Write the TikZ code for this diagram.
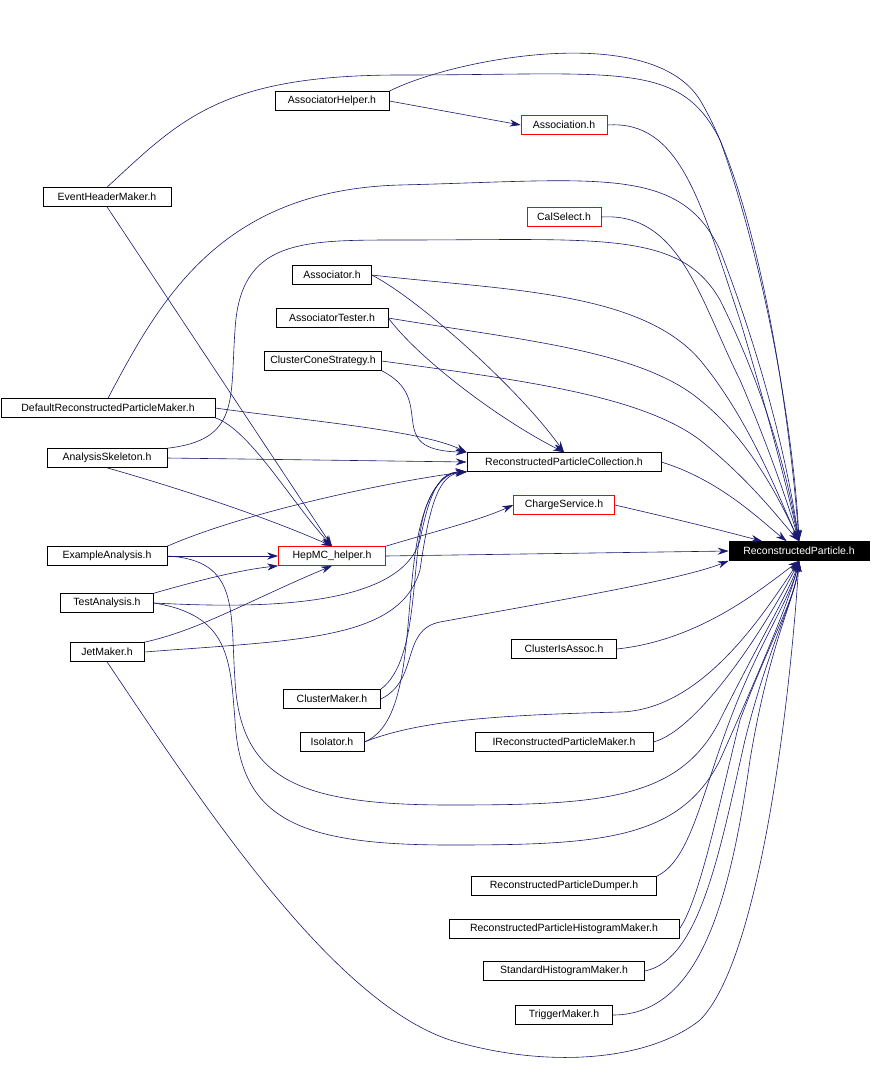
\documentclass[tikz,border=0pt]{standalone}
\usepackage{fontspec}
\setmainfont{Liberation Sans}
\usetikzlibrary{arrows.meta}
\definecolor{edge}{HTML}{191970}
\begin{document}
\begin{tikzpicture}[x=1pt,y=-1pt,
  box/.style={draw=black,fill=white,font=\fontsize{10.5}{12}\selectfont,minimum height=19pt,inner sep=0pt,line width=0.6pt},
  redbox/.style={box,draw=red},
  e/.style={draw=edge,line width=0.6pt,-{Stealth[length=11pt,width=7pt]}}]
\useasboundingbox (0,0) rectangle (872,1077);
\node[box,minimum width=114pt] (ah) at (332,101) {AssociatorHelper.h};
\node[redbox,minimum width=86pt] (as) at (564,125) {Association.h};
\node[box,minimum width=128pt] (ehm) at (107,197) {EventHeaderMaker.h};
\node[redbox,minimum width=74pt] (cs) at (564,217) {CalSelect.h};
\node[box,minimum width=79pt] (ator) at (332,275) {Associator.h};
\node[box,minimum width=112pt] (at) at (332,318) {AssociatorTester.h};
\node[box,minimum width=117pt] (ccs) at (323,361) {ClusterConeStrategy.h};
\node[box,minimum width=214pt] (drpm) at (108,408) {DefaultReconstructedParticleMaker.h};
\node[box,minimum width=120pt] (ask) at (107,458) {AnalysisSkeleton.h};
\node[box,minimum width=194pt] (rpc) at (564,462) {ReconstructedParticleCollection.h};
\node[redbox,minimum width=101pt] (chs) at (564,505) {ChargeService.h};
\node[box,minimum width=120pt] (ea) at (107,556) {ExampleAnalysis.h};
\node[redbox,minimum width=107pt] (hep) at (332,556) {HepMC\_helper.h};
\node[box,minimum width=140pt,fill=black,text=white] (rp) at (799,551) {ReconstructedParticle.h};
\node[box,minimum width=93pt] (ta) at (107,603) {TestAnalysis.h};
\node[box,minimum width=74pt] (jm) at (107,652) {JetMaker.h};
\node[box,minimum width=105pt] (cia) at (564,649) {ClusterIsAssoc.h};
\node[box,minimum width=97pt] (cm) at (332,699) {ClusterMaker.h};
\node[box,minimum width=64pt] (iso) at (332,742) {Isolator.h};
\node[box,minimum width=178pt] (irpm) at (564,742) {IReconstructedParticleMaker.h};
\node[box,minimum width=185pt] (dump) at (564,886) {ReconstructedParticleDumper.h};
\node[box,minimum width=230pt] (hist) at (564,929) {ReconstructedParticleHistogramMaker.h};
\node[box,minimum width=161pt] (shm) at (564,971) {StandardHistogramMaker.h};
\node[box,minimum width=97pt] (trg) at (564,1015) {TriggerMaker.h};

% to RP
\draw[e] (ah.north east) .. controls (450,60) and (650,20) .. (700,100) .. controls (760,200) and (790,420) .. (rp.north);
\draw[e] (as.east) .. controls (680,120) and (700,200) .. (740,320) .. controls (770,420) and (790,500) .. (rp.north);
\draw[e] (ehm.north) .. controls (180,120) and (220,75) .. (400,75) .. controls (620,75) and (680,60) .. (720,140) .. controls (770,280) and (795,450) .. (rp.north);
\draw[e] (cs.east) .. controls (680,212) and (700,300) .. (740,380) .. controls (770,450) and (790,510) .. (rp.north);
\draw[e] (ator.east) .. controls (500,290) and (640,290) .. (700,360) .. controls (750,420) and (780,500) .. (rp.north);
\draw[e] (at.east) .. controls (520,340) and (640,350) .. (700,400) .. controls (750,440) and (780,500) .. (rp.north);
\draw[e] (ccs.east) .. controls (520,380) and (640,395) .. (700,440) .. controls (750,480) and (780,520) .. (rp.north);
\draw[e] (drpm.north) .. controls (160,300) and (220,190) .. (400,185) .. controls (600,180) and (680,165) .. (720,250) .. controls (770,380) and (790,480) .. (rp.north);
\draw[e] (ask.north east) .. controls (240,440) and (230,400) .. (235,330) .. controls (240,240) and (300,240) .. (400,240) .. controls (600,240) and (680,230) .. (720,300) .. controls (770,400) and (790,490) .. (rp.north);
\draw[e] (rpc.east) .. controls (720,480) and (760,520) .. (rp);
\draw[e] (chs.east) .. controls (680,520) and (720,530) .. (rp);
\draw[e] (hep.east) -- (rp.west);
\draw[e] (ea.east) .. controls (240,560) and (230,610) .. (235,680) .. controls (240,780) and (300,805) .. (450,805) .. controls (600,805) and (680,800) .. (720,720) .. controls (760,640) and (790,590) .. (rp.south);
\draw[e] (ta.east) .. controls (230,615) and (230,660) .. (235,720) .. controls (240,820) and (300,845) .. (450,845) .. controls (600,845) and (680,840) .. (720,760) .. controls (760,670) and (790,600) .. (rp.south);
\draw[e] (jm.south) .. controls (200,800) and (330,1000) .. (450,1040) .. controls (550,1070) and (650,1060) .. (700,1020) .. controls (760,960) and (790,700) .. (rp.south);
\draw[e] (cm.east) .. controls (420,680) and (400,630) .. (440,622) .. controls (560,600) and (680,580) .. (rp.south west);
\draw[e] (iso.east) .. controls (420,720) and (500,715) .. (620,712) .. controls (700,710) and (760,620) .. (rp.south);
\draw[e] (cia.east) .. controls (700,640) and (760,590) .. (rp.south);
\draw[e] (irpm.east) .. controls (700,730) and (770,620) .. (rp.south);
\draw[e] (dump.north east) .. controls (690,860) and (700,800) .. (730,720) .. controls (760,640) and (790,600) .. (rp.south);
\draw[e] (hist.east) .. controls (700,900) and (720,800) .. (740,720) .. controls (770,640) and (795,600) .. (rp.south);
\draw[e] (shm.east) .. controls (700,960) and (720,850) .. (745,740) .. controls (770,640) and (795,600) .. (rp.south);
\draw[e] (trg.east) .. controls (700,1015) and (730,900) .. (750,760) .. controls (770,640) and (795,600) .. (rp.south);

% others
\draw[e] (ah.east) -- (as.west);
\draw[e] (ehm.south) -- (hep.north);
\draw[e] (ator.east) .. controls (420,300) and (520,390) .. (rpc.north);
\draw[e] (at.east) .. controls (420,360) and (500,420) .. (rpc.north);
\draw[e] (ccs.south east) .. controls (440,400) and (380,450) .. (rpc.north west);
\draw[e] (drpm.east) .. controls (300,420) and (420,430) .. (rpc.north west);
\draw[e] (drpm.south east) .. controls (250,430) and (290,500) .. (hep.north);
\draw[e] (ask.east) -- (rpc.west);
\draw[e] (ask.south) .. controls (150,480) and (250,510) .. (hep.north);
\draw[e] (ea.north east) .. controls (250,510) and (400,480) .. (rpc.south west);
\draw[e] (ea.east) -- (hep.west);
\draw[e] (hep.north east) .. controls (440,530) and (480,520) .. (chs.west);
\draw[e] (ta.north east) .. controls (200,580) and (240,570) .. (hep.south west);
\draw[e] (ta.east) .. controls (250,608) and (400,610) .. (420,540) .. controls (430,490) and (440,472) .. (rpc.south west);
\draw[e] (jm.north east) .. controls (200,630) and (250,600) .. (hep.south);
\draw[e] (jm.east) .. controls (300,640) and (400,640) .. (420,570) .. controls (430,500) and (440,475) .. (rpc.south west);
\draw[e] (cm.north east) .. controls (420,660) and (410,560) .. (425,510) .. controls (435,480) and (450,472) .. (rpc.south west);
\draw[e] (iso.east) .. controls (420,720) and (400,580) .. (425,510) .. controls (435,480) and (450,472) .. (rpc.south west);
\end{tikzpicture}
\end{document}
